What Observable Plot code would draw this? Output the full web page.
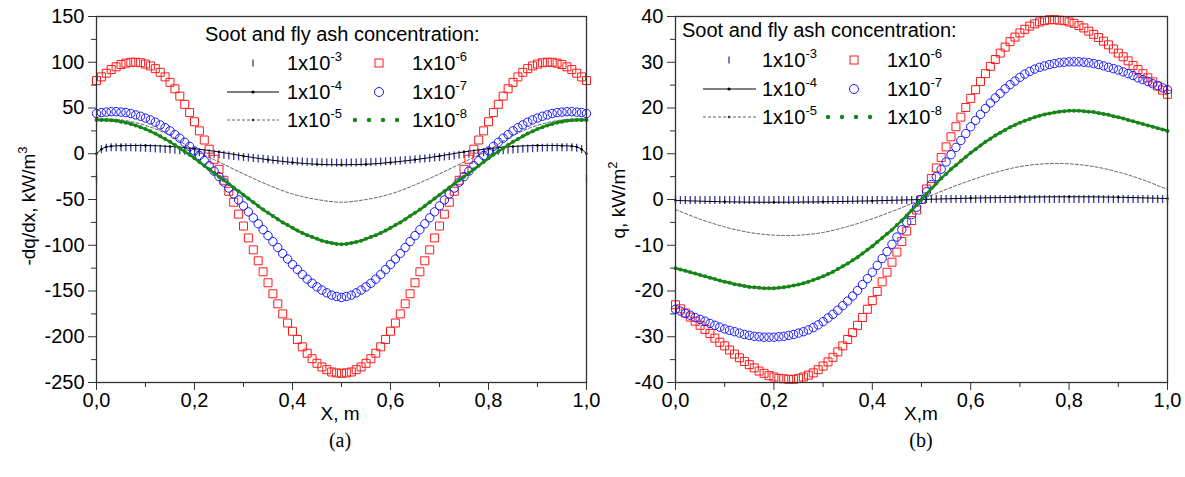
<!DOCTYPE html>
<html><head><meta charset="utf-8">
<script src="https://cdn.jsdelivr.net/npm/d3@7"></script>
<script src="https://cdn.jsdelivr.net/npm/@observablehq/plot@0.6"></script>
<style>
html,body{margin:0;padding:0;background:#fff;}
#wrap{position:relative;width:1185px;height:477px;overflow:hidden;}
#wrap > svg{position:absolute;}
</style></head><body><div id="wrap"></div>
<script>
// ---------- data ----------
const xGrid = d3.range(0, 101).map(i => i / 100);      // 0, 0.01, ... 1.00
const xCoarse = d3.range(0, 21).map(i => i / 20);      // 0, 0.05, ... 1.00
const xTenth = d3.range(0, 11).map(i => i / 10);       // 0, 0.1, ... 1.0
const xBlackA = [0,0.01,0.02,0.03,0.05,0.1,0.15,0.2,0.25,0.3,0.35,0.4,0.45,0.5,0.55,0.6,0.65,0.7,0.75,0.8,0.85,0.9,0.95,0.97,0.98,0.99,1];

const seriesNames = ["1x10^-3","1x10^-4","1x10^-5","1x10^-6","1x10^-7","1x10^-8"];

// panel (a): -dq/dx, kW/m3
const a_c3 = [-27,5,6.5,7,7,7,7,7,6.8,6.6,6.4,6.1,5.8,5.5,5.1,4.7,4.3,3.8,3.3,2.8,2.3,1.8,1.2,0.6,0,-0.6,-1.2,-1.8,-2.4,-3,-3.6,-4.1,-4.6,-5.1,-5.6,-6.1,-6.5,-6.9,-7.3,-7.7,-8,-8.3,-8.6,-8.8,-9,-9.2,-9.4,-9.5,-9.6,-9.7,-9.7,
  -9.7,-9.6,-9.5,-9.4,-9.2,-9,-8.8,-8.6,-8.3,-8,-7.7,-7.3,-6.9,-6.5,-6.1,-5.6,-5.1,-4.6,-4.1,-3.6,-3,-2.4,-1.8,-1.2,-0.6,0,0.6,1.2,1.8,2.3,2.8,3.3,3.8,4.3,4.7,5.1,5.5,5.8,6.1,6.4,6.6,6.8,7,7,7,7,7,6.5,5,-27];
const a_c4 = [0,5,7.5,8.3,8.8,9,8,5.5,2,-2.5,-6.5,-9.5,-11.5,-12,-11.5,-9.5,-6.5,-2.5,2,5.5,8,9,8.8,8.3,7.5,5,0];
const a_c5 = [38,37,31,20,4,-9,-22,-34,-44,-50,-53,-50,-44,-34,-22,-9,4,20,31,37,38];
const a_c6 = [80,84,88,92,95,97.5,99,100,100,99.5,98,96,93,89,84,78,71,63,54,45,35,25,15,5,-6,-17,-29,-41,-53,-66,-79,-92,-105,-117,-129,-141,-153,-164,-175,-185,-194,-203,-211,-218,-224,-229,-233,-236,-238.5,-239.5,-240,
  -239.5,-238.5,-236,-233,-229,-224,-218,-211,-203,-194,-185,-175,-164,-153,-141,-129,-117,-105,-92,-79,-66,-53,-41,-29,-17,-6,5,15,25,35,45,54,63,71,78,84,89,93,96,98,99.5,100,100,99,97.5,95,92,88,84,80];
const a_c7 = [44,45,45.5,46,46,45.5,45,44,42.5,41,39,37,34.5,31.5,28.5,25,21,17,12.5,8,3,-2,-7.5,-13,-19,-25,-31,-37.5,-44,-50.5,-57,-63.5,-70,-76.5,-83,-89.5,-96,-102.5,-109,-115,-121,-126.5,-132,-137,-141.5,-145.5,-149,-152,-154.5,-156,-157,
  -156,-154.5,-152,-149,-145.5,-141.5,-137,-132,-126.5,-121,-115,-109,-102.5,-96,-89.5,-83,-76.5,-70,-63.5,-57,-50.5,-44,-37.5,-31,-25,-19,-13,-7.5,-2,3,8,12.5,17,21,25,28.5,31.5,34.5,37,39,41,42.5,44,45,45.5,46,46,45.5,45,44];
const a_c8 = [37,37,36.8,36.5,36,35,34,32.5,31,29,27,24.5,22,19,16,13,9.5,6,2.5,-1,-5,-9,-13,-17,-21,-25,-29,-33,-37,-41,-45,-49,-53,-57,-61,-64.5,-68,-71.5,-75,-78,-81,-84,-86.5,-89,-91,-93,-95,-96.5,-97.5,-98.5,-99,
  -98.5,-97.5,-96.5,-95,-93,-91,-89,-86.5,-84,-81,-78,-75,-71.5,-68,-64.5,-61,-57,-53,-49,-45,-41,-37,-33,-29,-25,-21,-17,-13,-9,-5,-1,2.5,6,9.5,13,16,19,22,24.5,27,29,31,32.5,34,35,36,36.5,36.8,37,37];

// panel (b): q, kW/m2
const b_c3 = [0,-0.1,-0.1,-0.1,-0.1,-0.1,-0.1,-0.1,-0.1,-0.1,-0.1,-0.1,-0.1,-0.1,-0.1,-0.1,-0.1,-0.1,-0.1,-0.1,-0.1,-0.1,-0.1,-0.1,-0.1,-0.1,-0.1,-0.1,-0.1,-0.1,-0.1,-0.1,-0.1,-0.1,-0.1,-0.1,-0.1,-0.1,-0.1,-0.1,-0.1,-0.1,-0.1,-0.1,-0.1,-0.1,-0.1,-0.1,-0.1,-0.1,0,
  0.1,0.1,0.1,0.1,0.1,0.1,0.1,0.1,0.1,0.1,0.1,0.1,0.1,0.1,0.1,0.1,0.1,0.1,0.1,0.1,0.1,0.1,0.1,0.1,0.1,0.1,0.1,0.1,0.1,0.1,0.1,0.1,0.1,0.1,0.1,0.1,0.1,0.1,0.1,0.1,0.1,0.1,0.1,0.1,0.1,0.1,0.1,0.1,0.1,0.1];
const b_c4 = [-0.2,-0.5,-0.6,-0.5,-0.3,0,0.3,0.5,0.6,0.5,0.2];
const b_c5 = [-2.2,-4.3,-6,-7.2,-7.8,-7.8,-7.2,-5.9,-4.2,-2.2,0,2.2,4.2,5.9,7.2,7.8,7.8,7.2,6,4.3,2.2];
const b_c6 = [-23,-23.9,-24.8,-25.7,-26.6,-27.5,-28.4,-29.3,-30.3,-31.2,-32,-32.9,-33.8,-34.6,-35.4,-36.1,-36.8,-37.5,-38,-38.5,-38.8,-39.1,-39.2,-39.3,-39.3,-39.1,-38.8,-38.4,-37.9,-37.2,-36.4,-35.5,-34.5,-33.3,-32,-30.6,-29.1,-27.5,-25.8,-24,-22.1,-20.1,-18,-15.9,-13.7,-11.5,-9.2,-6.9,-4.6,-2.3,0,
  2.3,4.6,6.9,9.2,11.5,13.7,15.9,18,20.1,22.1,24,25.8,27.5,29.1,30.6,32,33.3,34.5,35.5,36.4,37.2,37.9,38.4,38.8,39.1,39.3,39.3,39.2,39.1,38.8,38.5,38,37.5,36.8,36.1,35.4,34.6,33.8,32.9,32,31.2,30.3,29.3,28.4,27.5,26.6,25.7,24.8,23.9,23];
const b_c7 = [-24,-24.4,-24.9,-25.3,-25.8,-26.2,-26.6,-27.1,-27.5,-27.9,-28.3,-28.6,-28.9,-29.2,-29.5,-29.7,-29.9,-30,-30.1,-30.1,-30.1,-30,-29.9,-29.7,-29.5,-29.2,-28.9,-28.5,-28,-27.4,-26.7,-25.9,-25.1,-24.2,-23.2,-22.2,-21.1,-19.9,-18.6,-17.3,-15.9,-14.4,-12.9,-11.4,-9.8,-8.2,-6.6,-5,-3.3,-1.7,0,
  1.7,3.3,5,6.6,8.2,9.8,11.4,12.9,14.4,15.9,17.3,18.6,19.9,21.1,22.2,23.2,24.2,25.1,25.9,26.7,27.4,28,28.5,28.9,29.2,29.5,29.7,29.9,30,30.1,30.1,30.1,30,29.9,29.7,29.5,29.2,28.9,28.6,28.3,27.9,27.5,27.1,26.6,26.2,25.8,25.3,24.9,24.4,24];
const b_c8 = [-15,-15.3,-15.6,-15.9,-16.2,-16.5,-16.8,-17.1,-17.4,-17.7,-18,-18.2,-18.5,-18.7,-18.9,-19.1,-19.2,-19.3,-19.4,-19.4,-19.4,-19.3,-19.2,-19,-18.8,-18.6,-18.3,-18,-17.6,-17.2,-16.8,-16.3,-15.8,-15.2,-14.6,-14,-13.3,-12.6,-11.8,-11,-10.2,-9.3,-8.4,-7.5,-6.6,-5.6,-4.6,-3.5,-2.4,-1.2,0,
  1.2,2.4,3.5,4.6,5.6,6.6,7.5,8.4,9.3,10.2,11,11.8,12.6,13.3,14,14.6,15.2,15.8,16.3,16.8,17.2,17.6,18,18.3,18.6,18.8,19,19.2,19.3,19.4,19.4,19.4,19.3,19.2,19.1,18.9,18.7,18.5,18.2,18,17.7,17.4,17.1,16.8,16.5,16.2,15.9,15.6,15.3,15];

// ticks
const xMajor = [0, 0.2, 0.4, 0.6, 0.8, 1.0];
const xMinor = [0.1, 0.3, 0.5, 0.7, 0.9];
const aMajor = [-250,-200,-150,-100,-50,0,50,100,150];
const aMinor = [-225,-175,-125,-75,-25,25,75,125];
const bMajor = [-40,-30,-20,-10,0,10,20,30,40];
const bMinor = [-35,-25,-15,-5,5,15,25,35];

// ---------- drawing ----------
const FONT = '"Liberation Sans", Arial, Helvetica, sans-serif';
const C = {c3:"#36369c", c4:"#000000", c5:"#3a3a3a", c6:"#ff1a1a", c7:"#1a1aff", c8:"#178517"};
const rows = (xs, ys) => xs.map((x, i) => ({x, y: ys[i]})).filter(d => d.y !== undefined);
const tickSym = {draw(ctx, size) { const h = Math.sqrt(size / Math.PI); ctx.moveTo(0, -h); ctx.lineTo(0, h); }};
const fmtX = d => d.toFixed(1).replace(".", ",");

function panel(opt) {
  const d3s = rows(xGrid, opt.c3), d4 = rows(opt.x4, opt.c4), d5 = rows(xCoarse, opt.c5),
        d6 = rows(xGrid, opt.c6), d7 = rows(xGrid, opt.c7), d8 = rows(xGrid, opt.c8);
  return Plot.plot({
    width: opt.width, height: 430,
    marginLeft: opt.ml, marginRight: opt.mr, marginTop: 16, marginBottom: 48,
    x: {domain: [0, 1]},
    y: {domain: opt.ydom},
    style: {fontFamily: FONT, fontSize: "20px", color: "#000", background: "transparent", overflow: "visible"},
    marks: [
      Plot.axisX({ticks: xMajor, tickSize: 8, tickPadding: 2, tickFormat: fmtX, label: null, fontSize: 20, stroke: "#333"}),
      Plot.axisX({ticks: xMinor, tickSize: 5, tickFormat: () => "", label: null, stroke: "#333"}),
      Plot.axisY({ticks: opt.yMajor, tickSize: 8, tickPadding: 4, tickFormat: d => String(d), label: null, fontSize: 20, stroke: "#333"}),
      Plot.axisY({ticks: opt.yMinor, tickSize: 5, tickFormat: () => "", label: null, stroke: "#333"}),
      Plot.dot(d3s, {x: "x", y: "y", symbol: tickSym, r: 4, stroke: C.c3, strokeWidth: 1.3, fill: "none"}),
      Plot.line(d4, {x: "x", y: "y", stroke: C.c4, strokeWidth: 1, curve: "catmull-rom"}),
      Plot.dot(d4, {x: "x", y: "y", r: 1.2, fill: C.c4}),
      Plot.line(d5, {x: "x", y: "y", stroke: C.c5, strokeWidth: 0.8, strokeDasharray: "3,2", curve: "catmull-rom"}),
      Plot.dot(d6, {x: "x", y: "y", symbol: "square", r: 4.5, stroke: C.c6, strokeWidth: 1, fill: "none"}),
      Plot.dot(d7, {x: "x", y: "y", symbol: "circle", r: 4.2, stroke: C.c7, strokeWidth: 1, fill: "none"}),
      Plot.line(d8, {x: "x", y: "y", stroke: C.c8, strokeWidth: 2.5, curve: "catmull-rom"}),
      Plot.dot(d8, {x: "x", y: "y", r: 2, fill: C.c8}),
      Plot.frame({stroke: "#333", strokeWidth: 1.3})
    ]
  });
}

const wrap = document.getElementById("wrap");
const left = panel({width: 600, ml: 96, mr: 14, ydom: [-250, 150], yMajor: aMajor, yMinor: aMinor,
  x4: xBlackA, c3: a_c3, c4: a_c4, c5: a_c5, c6: a_c6, c7: a_c7, c8: a_c8});
left.style.left = "0px"; left.style.top = "0px";
wrap.appendChild(left);
const right = panel({width: 585, ml: 75, mr: 18, ydom: [-40, 40], yMajor: bMajor, yMinor: bMinor,
  x4: xTenth, c3: b_c3, c4: b_c4, c5: b_c5, c6: b_c6, c7: b_c7, c8: b_c8});
right.style.left = "600px"; right.style.top = "0px";
wrap.appendChild(right);

// ---------- legends, axis titles, captions (overlay) ----------
const legendTitle = "Soot and fly ash concentration:";
function sup(base, exp, x, y) {
  return `<text x="${x}" y="${y}" font-size="20">${base}<tspan dy="-9" font-size="13">${exp}</tspan></text>`;
}
function legend(L) {
  const [r1, r2, r3] = L.rows;   // symbol centre y per row
  let s = `<text x="${L.tx}" y="${L.ty}" font-size="20">${legendTitle}</text>`;
  // column 1
  s += `<line x1="${L.s1}" x2="${L.s1}" y1="${r1-3.5}" y2="${r1+3.5}" stroke="${C.c3}" stroke-width="1.3"/>`;
  s += `<line x1="${L.l1a}" x2="${L.l1b}" y1="${r2}" y2="${r2}" stroke="#000" stroke-width="1"/><circle cx="${L.s1}" cy="${r2}" r="1.6" fill="#000"/>`;
  s += `<line x1="${L.l1a}" x2="${L.l1b}" y1="${r3}" y2="${r3}" stroke="${C.c5}" stroke-width="0.8" stroke-dasharray="3,2"/><circle cx="${L.s1}" cy="${r3}" r="1.3" fill="${C.c5}"/>`;
  s += sup("1x10", "-3", L.t1, r1 + 7) + sup("1x10", "-4", L.t1, r2 + 7) + sup("1x10", "-5", L.t1, r3 + 7);
  // column 2
  s += `<rect x="${L.s2-4}" y="${r1-4}" width="8" height="8" fill="none" stroke="${C.c6}" stroke-width="1"/>`;
  s += `<circle cx="${L.s2}" cy="${r2}" r="4.5" fill="none" stroke="${C.c7}" stroke-width="1"/>`;
  for (let k = 0; k < 4; k++) s += `<circle cx="${L.g0 + k*(L.g1-L.g0)/3}" cy="${r3}" r="2.2" fill="${C.c8}"/>`;
  s += sup("1x10", "-6", L.t2, r1 + 7) + sup("1x10", "-7", L.t2, r2 + 7) + sup("1x10", "-8", L.t2, r3 + 7);
  return s;
}
let ov = `<svg width="1185" height="477" style="left:0;top:0" font-family='${FONT}' fill="#000">`;
ov += legend({tx: 205, ty: 41, rows: [63, 92, 120], s1: 253, l1a: 227, l1b: 279, t1: 287, s2: 379, g0: 355, g1: 397, t2: 412});
ov += legend({tx: 682, ty: 37, rows: [60, 89, 117], s1: 729, l1a: 703, l1b: 756, t1: 762, s2: 854, g0: 828, g1: 870, t2: 887});
// axis titles
ov += `<text transform="translate(35,206) rotate(-90)" text-anchor="middle" font-size="19">-dq/dx, kW/m<tspan dy="-8" font-size="13">3</tspan></text>`;
ov += `<text transform="translate(625,200) rotate(-90)" text-anchor="middle" font-size="19">q, kW/m<tspan dy="-8" font-size="13">2</tspan></text>`;
ov += `<text x="340" y="420" text-anchor="middle" font-size="19">X, m</text>`;
ov += `<text x="921" y="420" text-anchor="middle" font-size="19">X,m</text>`;
ov += `<text x="340" y="447" text-anchor="middle" font-size="20" font-family='"Liberation Serif", "Times New Roman", serif'>(a)</text>`;
ov += `<text x="921" y="447" text-anchor="middle" font-size="20" font-family='"Liberation Serif", "Times New Roman", serif'>(b)</text>`;
ov += `</svg>`;
wrap.insertAdjacentHTML("beforeend", ov);
</script>
</body></html>
